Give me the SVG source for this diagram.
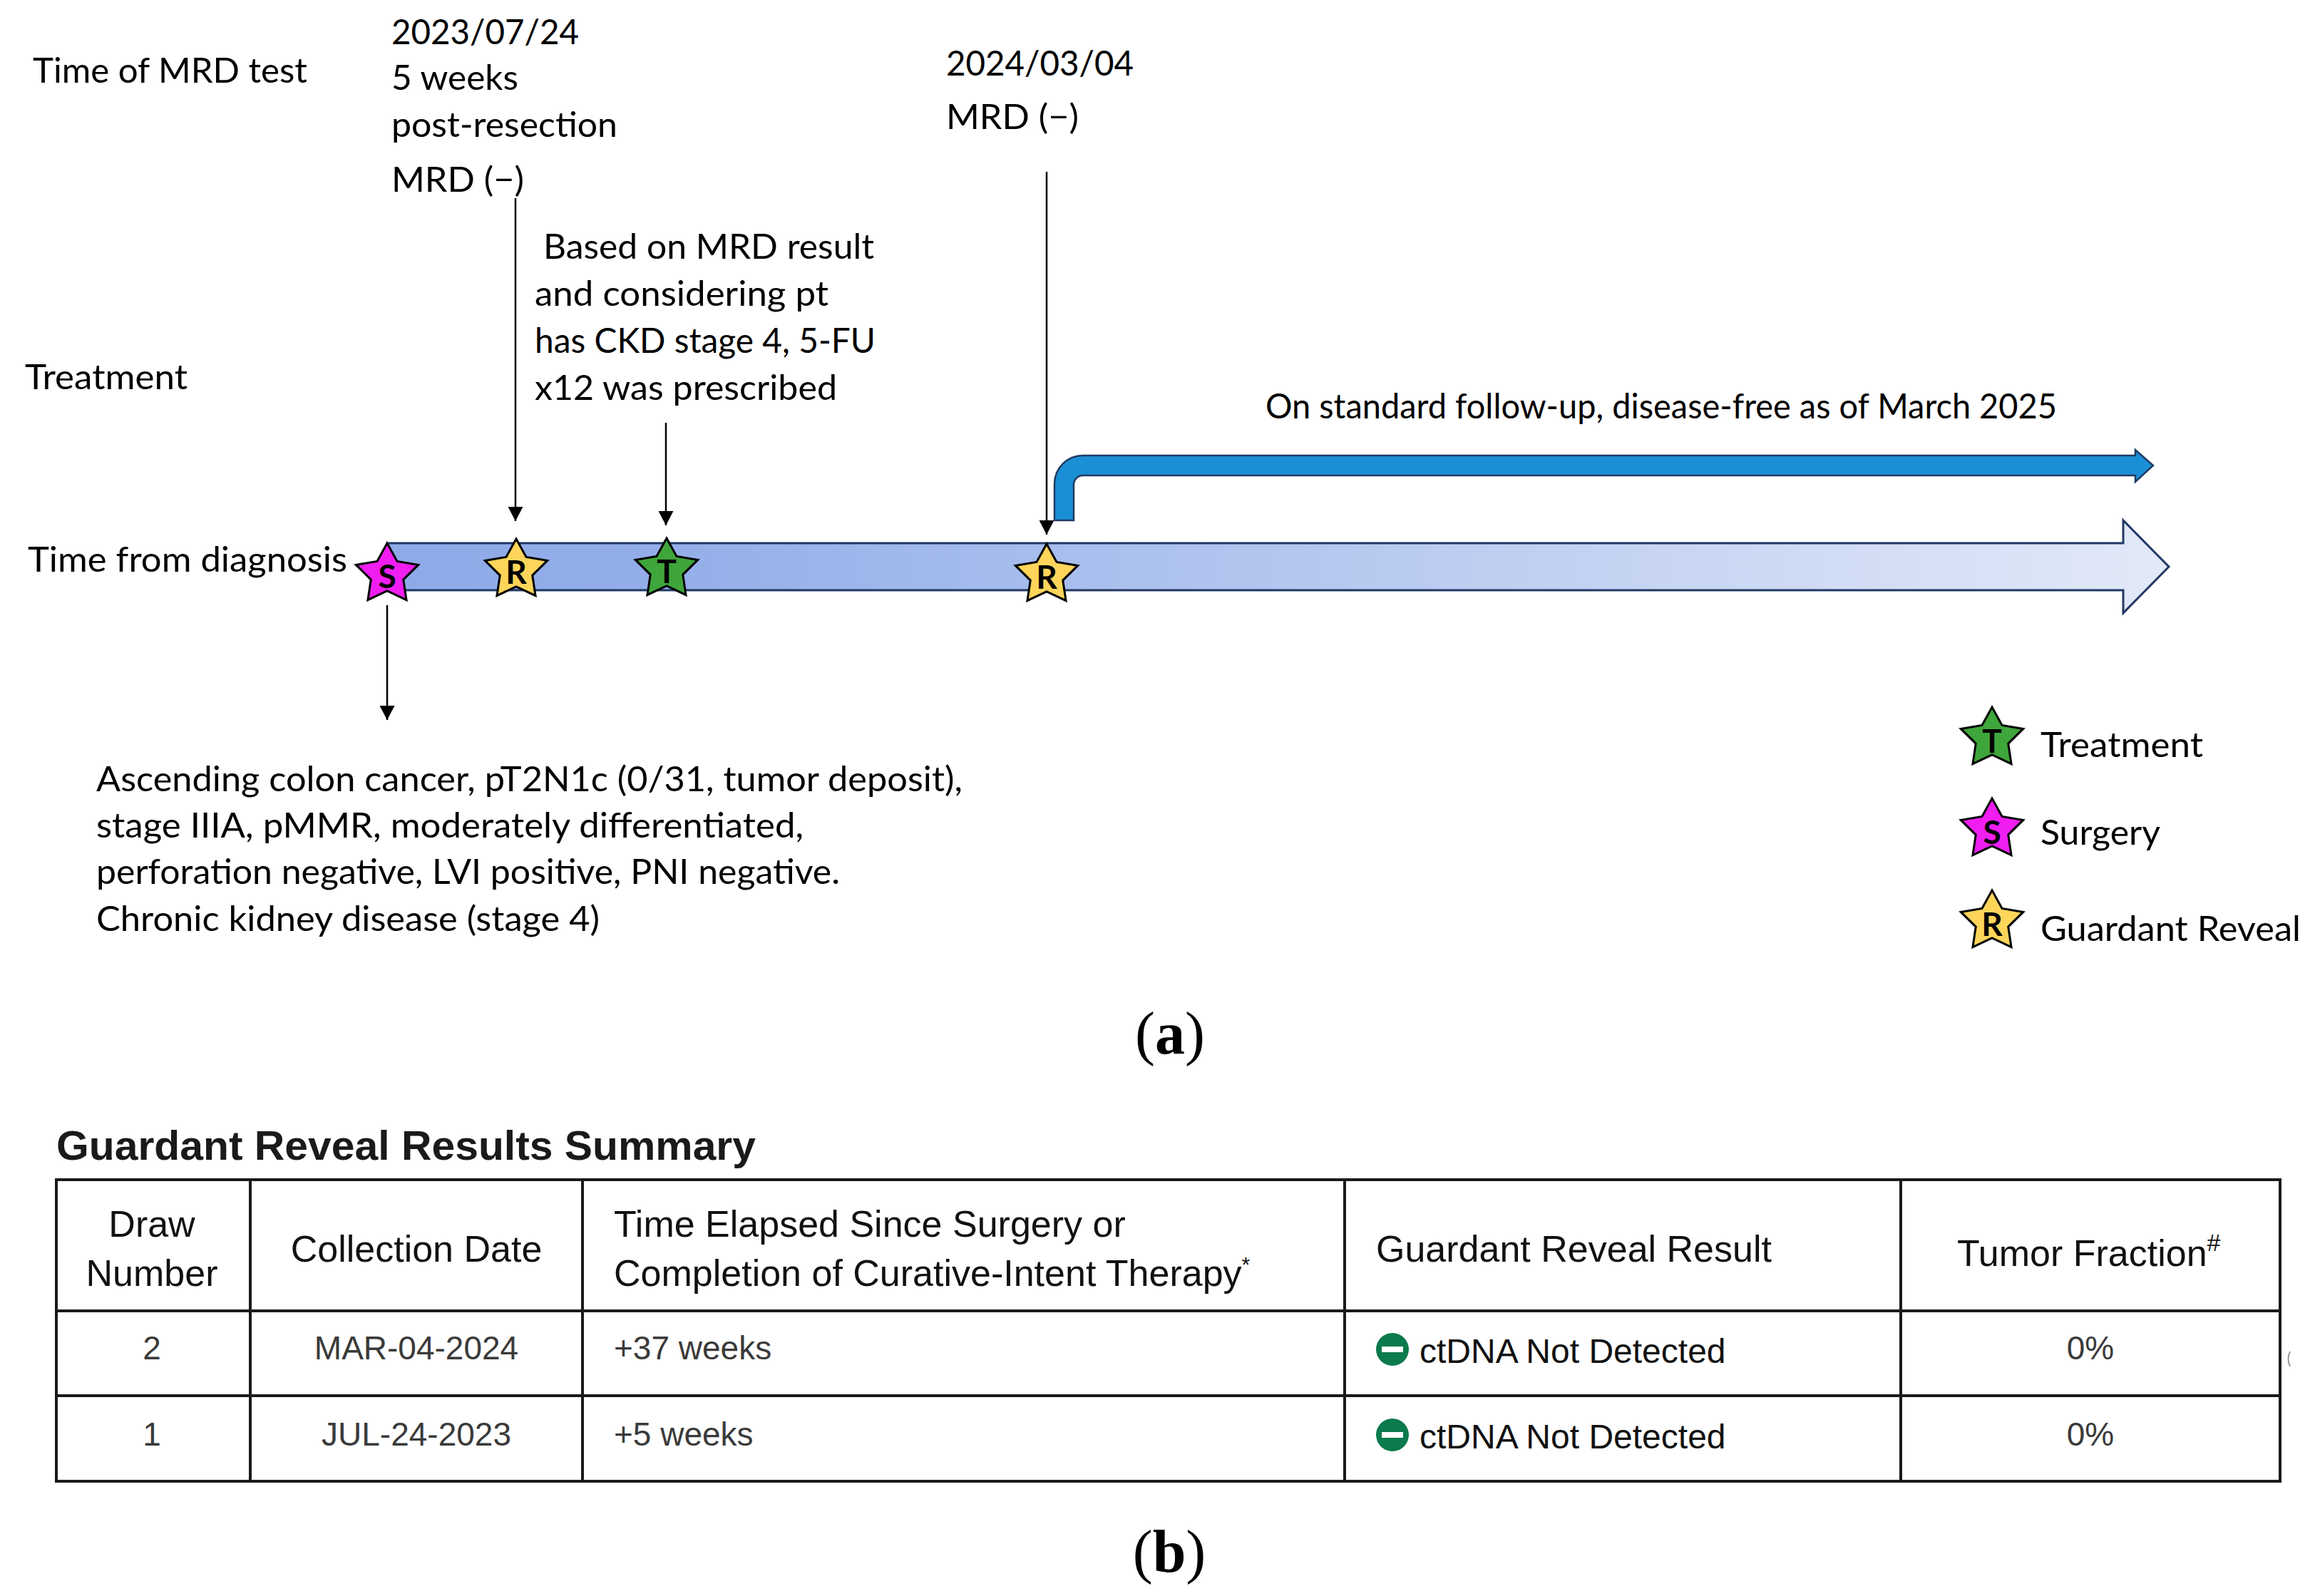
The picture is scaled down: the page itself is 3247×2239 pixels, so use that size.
<svg xmlns="http://www.w3.org/2000/svg" xmlns:xlink="http://www.w3.org/1999/xlink" width="3247" height="2239" viewBox="0 0 3247 2239">
<style>
.c{font-family:Lato,"Open Sans","Noto Sans",sans-serif;font-size:48px;fill:#000}
.sl{font-family:Lato,"Open Sans",sans-serif;font-size:46px;font-weight:bold;fill:#000;text-anchor:middle}
.h{font-family:"Liberation Sans",Arial,sans-serif;font-size:52px;fill:#111}
.d{font-family:"Liberation Sans",Arial,sans-serif;font-size:46px;fill:#3a3a3a}
.r{font-family:"Liberation Sans",Arial,sans-serif;font-size:48px;fill:#111}
.cap{font-family:"Liberation Serif","Times New Roman",serif;font-size:84px;fill:#000;text-anchor:middle}
.mid{text-anchor:middle}
.conn{stroke:#000;stroke-width:2.5;fill:none;marker-end:url(#ah)}
.grid{stroke:#1a1a1a;stroke-width:4;fill:none}
.star{stroke:#000;stroke-width:3;stroke-linejoin:miter}
.mag{fill:#f01ef0}
.yel{fill:#fed55a}
.grn{fill:#3ea63a}
</style>
<defs>
<marker id="ah" viewBox="0 0 20 21" refX="20" refY="10.5" markerWidth="20" markerHeight="21" markerUnits="userSpaceOnUse" orient="auto">
<path d="M0,0 L20,10.5 L0,21 Z" fill="#000"/>
</marker>
<linearGradient id="barg" gradientUnits="userSpaceOnUse" x1="543" y1="0" x2="3042" y2="0">
<stop offset="0" stop-color="#8eaae8"/>
<stop offset="0.15" stop-color="#93aee9"/>
<stop offset="1" stop-color="#e2e9f8"/>
</linearGradient>
<polygon id="star" points="0,-44 14.05,-18.53 43.75,-13.6 22.73,7.08 27.04,35.6 0,22.9 -27.04,35.6 -22.73,7.08 -43.75,-13.6 -14.05,-18.53"/>
</defs>
<rect x="0" y="0" width="3247" height="2239" fill="#fff"/>

<g id="row-labels">
<text class="c" x="46" y="116" textLength="385" lengthAdjust="spacingAndGlyphs">Time of MRD test</text>
<text class="c" x="35" y="546" textLength="228" lengthAdjust="spacingAndGlyphs">Treatment</text>
<text class="c" x="39" y="802" textLength="448" lengthAdjust="spacingAndGlyphs">Time from diagnosis</text>
</g>

<g id="mrd-test-1">
<text class="c" x="549" y="62" textLength="263" lengthAdjust="spacingAndGlyphs">2023/07/24</text>
<text class="c" x="549" y="126" textLength="178" lengthAdjust="spacingAndGlyphs">5 weeks</text>
<text class="c" x="549" y="192" textLength="317" lengthAdjust="spacingAndGlyphs">post-resection</text>
<text class="c" x="549" y="269" textLength="186" lengthAdjust="spacingAndGlyphs">MRD (−)</text>
</g>

<g id="mrd-test-2">
<text class="c" x="1327" y="106" textLength="263" lengthAdjust="spacingAndGlyphs">2024/03/04</text>
<text class="c" x="1327" y="181" textLength="186" lengthAdjust="spacingAndGlyphs">MRD (−)</text>
</g>

<g id="treatment-note">
<text class="c" x="762" y="363" textLength="464" lengthAdjust="spacingAndGlyphs">Based on MRD result</text>
<text class="c" x="750" y="429" textLength="412" lengthAdjust="spacingAndGlyphs">and considering pt</text>
<text class="c" x="750" y="495" textLength="478" lengthAdjust="spacingAndGlyphs">has CKD stage 4, 5-FU</text>
<text class="c" x="750" y="561" textLength="424" lengthAdjust="spacingAndGlyphs">x12 was prescribed</text>
</g>

<g id="followup">
<path d="M1479,730 L1479,679 A40,40 0 0 1 1519,639 L2995,639 L2995,631 L3020,653 L2995,676 L2995,667 L1519,667 A13,13 0 0 0 1506,680 L1506,730 Z" fill="#1b8fd5" stroke="#1f3b63" stroke-width="2.5" stroke-linejoin="miter"/>
<text class="c" x="1775" y="587" textLength="1110" lengthAdjust="spacingAndGlyphs">On standard follow-up, disease-free as of March 2025</text>
</g>

<g id="timeline">
<polygon points="543,762 2978,762 2978,730 3042,795 2978,860 2978,828 543,828" fill="url(#barg)" stroke="#203864" stroke-width="3"/>
</g>

<g id="connectors">
<line class="conn" x1="723" y1="278" x2="723" y2="731"/>
<line class="conn" x1="934" y1="593" x2="934" y2="737"/>
<line class="conn" x1="1468" y1="241" x2="1468" y2="750"/>
<line class="conn" x1="543" y1="849" x2="543" y2="1010"/>
</g>

<g id="star-surgery">
<use xlink:href="#star" href="#star" x="543" y="806" class="star mag"/>
<text class="sl" x="543" y="825">S</text>
</g>
<g id="star-reveal-1">
<use xlink:href="#star" href="#star" x="724" y="800" class="star yel"/>
<text class="sl" x="724" y="819">R</text>
</g>
<g id="star-treatment">
<use xlink:href="#star" href="#star" x="935" y="799" class="star grn"/>
<text class="sl" x="935" y="818">T</text>
</g>
<g id="star-reveal-2">
<use xlink:href="#star" href="#star" x="1468" y="807" class="star yel"/>
<text class="sl" x="1468" y="826">R</text>
</g>

<g id="diagnosis-note">
<text class="c" x="135" y="1110" textLength="1215" lengthAdjust="spacingAndGlyphs">Ascending colon cancer, pT2N1c (0/31, tumor deposit),</text>
<text class="c" x="135" y="1175" textLength="992" lengthAdjust="spacingAndGlyphs">stage IIIA, pMMR, moderately differentiated,</text>
<text class="c" x="135" y="1240" textLength="1043" lengthAdjust="spacingAndGlyphs">perforation negative, LVI positive, PNI negative.</text>
<text class="c" x="135" y="1306" textLength="706" lengthAdjust="spacingAndGlyphs">Chronic kidney disease (stage 4)</text>
</g>

<g id="legend">
<g id="legend-treatment">
<use xlink:href="#star" href="#star" x="2794" y="1036" class="star grn"/>
<text class="sl" x="2794" y="1056">T</text>
<text class="c" x="2862" y="1062" textLength="228" lengthAdjust="spacingAndGlyphs">Treatment</text>
</g>
<g id="legend-surgery">
<use xlink:href="#star" href="#star" x="2794" y="1164" class="star mag"/>
<text class="sl" x="2794" y="1184">S</text>
<text class="c" x="2862" y="1185" textLength="168" lengthAdjust="spacingAndGlyphs">Surgery</text>
</g>
<g id="legend-reveal">
<use xlink:href="#star" href="#star" x="2794" y="1293" class="star yel"/>
<text class="sl" x="2794" y="1313">R</text>
<text class="c" x="2862" y="1320" textLength="365" lengthAdjust="spacingAndGlyphs">Guardant Reveal</text>
</g>
</g>

<g id="caption-a">
<text class="cap" x="1641" y="1478">(<tspan font-weight="bold">a</tspan>)</text>
</g>

<g id="results-table">
<text x="79" y="1627" font-family="'Liberation Sans',Arial,sans-serif" font-size="58" font-weight="bold" fill="#1a1a1a" textLength="981" lengthAdjust="spacingAndGlyphs">Guardant Reveal Results Summary</text>
<rect class="grid" x="79" y="1655" width="3119" height="423"/>
<line class="grid" x1="79" y1="1839" x2="3198" y2="1839"/>
<line class="grid" x1="79" y1="1958" x2="3198" y2="1958"/>
<line class="grid" x1="351" y1="1655" x2="351" y2="2078"/>
<line class="grid" x1="817" y1="1655" x2="817" y2="2078"/>
<line class="grid" x1="1886" y1="1655" x2="1886" y2="2078"/>
<line class="grid" x1="2666" y1="1655" x2="2666" y2="2078"/>

<text class="h mid" x="213" y="1735">Draw</text>
<text class="h mid" x="213" y="1804">Number</text>
<text class="h mid" x="584" y="1770">Collection Date</text>
<text class="h" x="861" y="1735">Time Elapsed Since Surgery or</text>
<text class="h" x="861" y="1804">Completion of Curative-Intent Therapy<tspan font-size="30" dy="-20">*</tspan></text>
<text class="h" x="1930" y="1770">Guardant Reveal Result</text>
<text class="h" x="2745" y="1776">Tumor Fraction<tspan font-size="34" dy="-21">#</tspan></text>

<text class="d mid" x="213" y="1907">2</text>
<text class="d mid" x="584" y="1907">MAR-04-2024</text>
<text class="d" x="861" y="1907">+37 weeks</text>
<circle cx="1953" cy="1893" r="23" fill="#0b7a4c"/>
<rect x="1938" y="1889" width="30" height="8" fill="#fff"/>
<text class="r" x="1991" y="1912">ctDNA Not Detected</text>
<text class="d mid" x="2932" y="1907">0%</text>

<text class="d mid" x="213" y="2028">1</text>
<text class="d mid" x="584" y="2028">JUL-24-2023</text>
<text class="d" x="861" y="2028">+5 weeks</text>
<circle cx="1953" cy="2013" r="23" fill="#0b7a4c"/>
<rect x="1938" y="2009" width="30" height="8" fill="#fff"/>
<text class="r" x="1991" y="2032">ctDNA Not Detected</text>
<text class="d mid" x="2932" y="2028">0%</text>

<path d="M3212,1896 Q3207,1906 3212,1917" stroke="#9a9a9a" stroke-width="2" fill="none"/>
</g>

<g id="caption-b">
<text class="cap" x="1640" y="2205">(<tspan font-weight="bold">b</tspan>)</text>
</g>
</svg>
